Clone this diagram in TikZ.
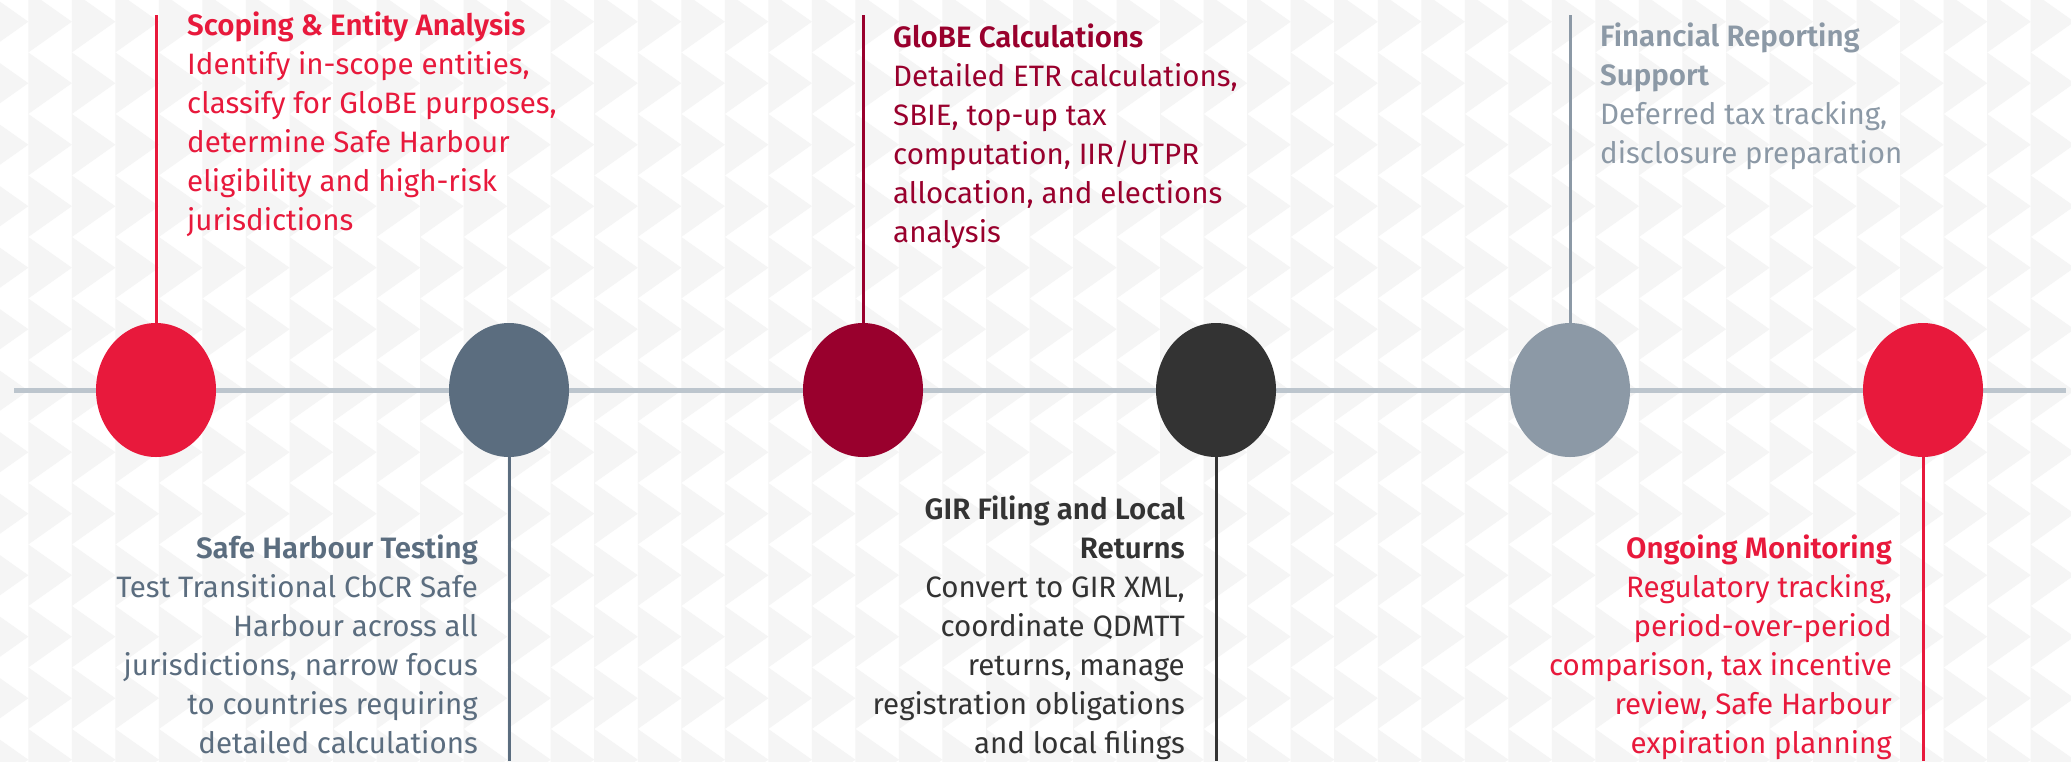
\documentclass[tikz,border=0pt]{standalone}
\usepackage{fontspec}
\setmainfont{Fira Sans}[BoldFont={Fira Sans SemiBold}]
\usetikzlibrary{shapes.geometric, positioning}

\definecolor{tlred}{RGB}{232,25,60}
\definecolor{tlslate}{RGB}{91,109,127}
\definecolor{tlwine}{RGB}{153,0,45}
\definecolor{tldark}{RGB}{51,51,51}
\definecolor{tlgrey}{RGB}{140,153,166}
\definecolor{tlaxis}{RGB}{188,197,205}
\definecolor{tlback}{RGB}{245,245,245}

\begin{document}
\begin{tikzpicture}[x=1pt, y=-1pt,
  dot/.style={ellipse, minimum width=120pt, minimum height=134pt, inner sep=0pt},
  stem/.style={line width=3pt},
  upper/.style={anchor=base west, align=left, inner sep=0pt, font=\fontsize{29.5}{39}\selectfont},
  lower/.style={anchor=base east, align=right, inner sep=0pt, font=\fontsize{29.5}{39}\selectfont}]

\useasboundingbox (0,0) rectangle (2071,761);
\fill[white] (0,0) rectangle (2071,761);

\begin{scope}
\clip (0,0) rectangle (2071,761);
\foreach \i in {0,...,48}
  \foreach \j in {-1,...,12}
    \fill[tlback] ({-15.2+43.53*\i},{-9.05+61.5*\j}) -- ++(43.53,30.75) -- ++(-43.53,30.75) -- cycle;
\end{scope}

\coordinate (axisL) at (14,390);
\coordinate (axisR) at (2066,390);
\draw[tlaxis, line width=5pt] (axisL) -- (axisR);

\node[dot, fill=tlred] (s1) at (156,390) {};
\node[dot, fill=tlslate] (s2) at (509,390) {};
\node[dot, fill=tlwine] (s3) at (863,390) {};
\node[dot, fill=tldark] (s4) at (1216,390) {};
\node[dot, fill=tlgrey] (s5) at (1570,390) {};
\node[dot, fill=tlred] (s6) at (1923,390) {};

\coordinate (t1) at (156,15);
\coordinate (t3) at (863,15);
\coordinate (t5) at (1570,15);
\coordinate (b2) at (509,761);
\coordinate (b4) at (1216,761);
\coordinate (b6) at (1923,761);
\draw[stem, tlred] (s1.north) -- (t1);
\draw[stem, tlwine] (s3.north) -- (t3);
\draw[stem, tlgrey] (s5.north) -- (t5);
\draw[stem, tlslate] (s2.south) -- (b2);
\draw[stem, tldark] (s4.south) -- (b4);
\draw[stem, tlred] (s6.south) -- (b6);

\node[upper, text=tlred] (scoping) at (187,230) {\textbf{Scoping \& Entity Analysis}\\Identify in-scope entities,\\classify for GloBE purposes,\\determine Safe Harbour\\eligibility and high-risk\\jurisdictions};
\node[upper, text=tlwine] (globe) at (893,242) {\textbf{GloBE Calculations}\\Detailed ETR calculations,\\SBIE, top-up tax\\computation, IIR/UTPR\\allocation, and elections\\analysis};
\node[upper, text=tlgrey] (reporting) at (1600,163) {\textbf{Financial Reporting}\\\textbf{Support}\\Deferred tax tracking,\\disclosure preparation};

\node[lower, text=tlslate] (harbour) at (478,753) {\textbf{Safe Harbour Testing}\\Test Transitional CbCR Safe\\Harbour across all\\jurisdictions, narrow focus\\to countries requiring\\detailed calculations};
\node[lower, text=tldark] (filing) at (1185,753) {\textbf{GIR Filing and Local}\\\textbf{Returns}\\Convert to GIR XML,\\coordinate QDMTT\\returns, manage\\registration obligations\\and local filings};
\node[lower, text=tlred] (monitoring) at (1892,753) {\textbf{Ongoing Monitoring}\\Regulatory tracking,\\period-over-period\\comparison, tax incentive\\review, Safe Harbour\\expiration planning};

\end{tikzpicture}
\end{document}
